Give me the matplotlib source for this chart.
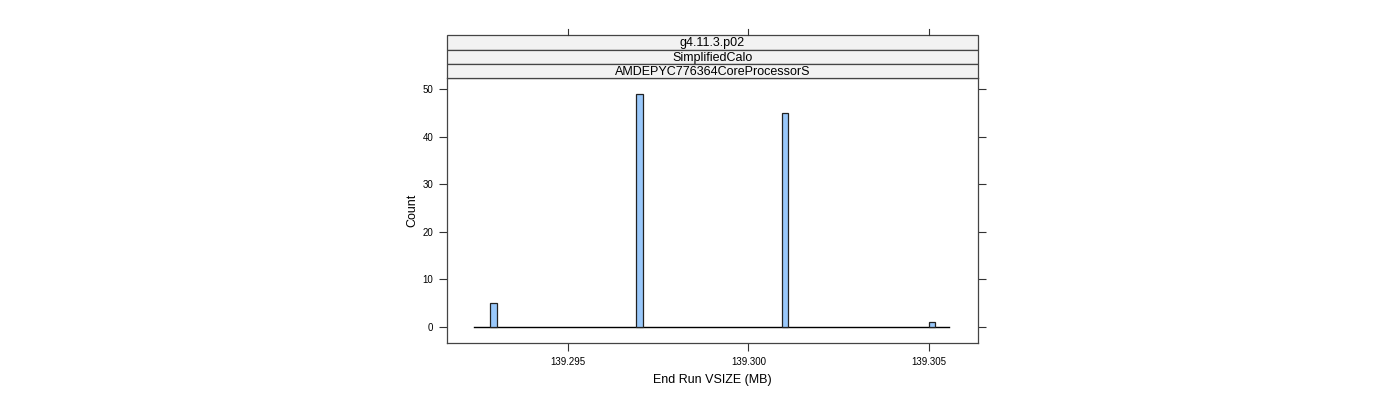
import matplotlib
matplotlib.use("Agg")
import matplotlib.pyplot as plt
from matplotlib.patches import Rectangle

plt.rcParams['font.family'] = ['Liberation Sans', 'DejaVu Sans']

# data
bin_centers = [139.29294, 139.29698, 139.30101, 139.30508]
counts = [5, 49, 45, 1]
bin_width = 0.00018
hist_range = (139.29240, 139.30557)
strip_labels = ["g4.11.3.p02", "SimplifiedCalo", "AMDEPYC776364CoreProcessorS"]
xticks = [139.295, 139.300, 139.305]
xtick_labels = ["139.295", "139.300", "139.305"]
yticks = [0, 10, 20, 30, 40, 50]

W, H = 1400, 400
fig = plt.figure(figsize=(14, 4), dpi=100)

L, R, B, T = 447, 978, 343, 78
ax = fig.add_axes([L / W, 1 - B / H, (R - L) / W, (B - T) / H])
ax.bar(bin_centers, counts, width=bin_width, color='#99c8fb',
       edgecolor='#222222', linewidth=0.9, zorder=3)
ax.plot(hist_range, [0, 0], color='black', linewidth=1.0, zorder=2)
ax.set_xlim(139.29165, 139.30636)
ax.set_ylim(-3.37, 52.4)
ax.set_xticks(xticks)
ax.set_xticklabels(xtick_labels, fontsize=7)
ax.set_yticks(yticks)
ax.set_yticklabels([str(v) for v in yticks], fontsize=7)
ax.tick_params(axis='both', direction='out', length=6, width=0.8,
               color='#333333', pad=4)
ax.tick_params(axis='y', right=True)
for s in ax.spines.values():
    s.set_color('#444444')
    s.set_linewidth(0.9)
ax.set_xlabel("End Run VSIZE (MB)", fontsize=9, labelpad=5)
ax.set_ylabel("Count", fontsize=9, labelpad=3)

# top ticks above the strips
strip_top = 35
for xt in xticks:
    xp = ax.transData.transform((xt, 0))[0]
    fig.add_artist(plt.Line2D([xp / W, xp / W], [1 - strip_top / H, 1 - 29 / H],
                              color='#333333', linewidth=0.8))

# strips
strip_edges = [35, 49.5, 64, 78]
for i, lab in enumerate(strip_labels):
    y0, y1 = strip_edges[i], strip_edges[i + 1]
    fig.add_artist(Rectangle((L / W, 1 - y1 / H), (R - L) / W, (y1 - y0) / H,
                             facecolor='#f2f2f2', edgecolor='#444444',
                             linewidth=0.9, transform=fig.transFigure))
    fig.text((L + R) / 2 / W, 1 - (y0 + y1) / 2 / H - 0.002, lab, ha='center',
             va='center', fontsize=9)

fig.savefig("out.png", dpi=100)
